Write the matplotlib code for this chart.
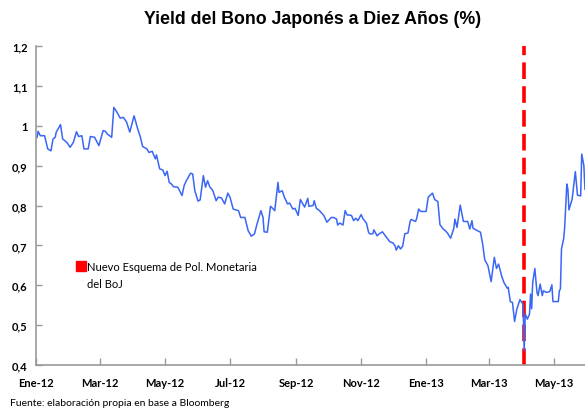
import numpy as np
import pandas as pd
import matplotlib
matplotlib.use('Agg')
import matplotlib.pyplot as plt
import matplotlib.dates as mdates
from matplotlib.lines import Line2D
from matplotlib.ticker import FuncFormatter, MultipleLocator

# yield of the 10y JGB
fechas = [
    '2012-01-02', '2012-01-03', '2012-01-05', '2012-01-09', '2012-01-12', '2012-01-15',
    '2012-01-17', '2012-01-19', '2012-01-20', '2012-01-24', '2012-01-26', '2012-01-30',
    '2012-02-02', '2012-02-05', '2012-02-08', '2012-02-10', '2012-02-13', '2012-02-15',
    '2012-02-19', '2012-02-21', '2012-02-25', '2012-02-29', '2012-03-04', '2012-03-06',
    '2012-03-08', '2012-03-10', '2012-03-12', '2012-03-14', '2012-03-17', '2012-03-20',
    '2012-03-23', '2012-03-26', '2012-03-29', '2012-04-02', '2012-04-05', '2012-04-08',
    '2012-04-10', '2012-04-14', '2012-04-16', '2012-04-19', '2012-04-20', '2012-04-22',
    '2012-04-23', '2012-04-26', '2012-04-29', '2012-05-01', '2012-05-03', '2012-05-05',
    '2012-05-07', '2012-05-09', '2012-05-13', '2012-05-17', '2012-05-19', '2012-05-21',
    '2012-05-25', '2012-05-27', '2012-05-29', '2012-06-01', '2012-06-03', '2012-06-05',
    '2012-06-06', '2012-06-08', '2012-06-10', '2012-06-12', '2012-06-15', '2012-06-18',
    '2012-06-20', '2012-06-23', '2012-06-26', '2012-06-29', '2012-07-01', '2012-07-04',
    '2012-07-09', '2012-07-11', '2012-07-15', '2012-07-18', '2012-07-21', '2012-07-24',
    '2012-07-26', '2012-07-30', '2012-08-01', '2012-08-02', '2012-08-05', '2012-08-08',
    '2012-08-10', '2012-08-12', '2012-08-15', '2012-08-16', '2012-08-19', '2012-08-21',
    '2012-08-24', '2012-08-26', '2012-08-29', '2012-08-31', '2012-09-03', '2012-09-05',
    '2012-09-09', '2012-09-12', '2012-09-13', '2012-09-17', '2012-09-18', '2012-09-20',
    '2012-09-23', '2012-09-27', '2012-09-30', '2012-10-04', '2012-10-06', '2012-10-09',
    '2012-10-10', '2012-10-12', '2012-10-15', '2012-10-17', '2012-10-19', '2012-10-21',
    '2012-10-23', '2012-10-25', '2012-10-27', '2012-10-29', '2012-11-01', '2012-11-03',
    '2012-11-06', '2012-11-08', '2012-11-09', '2012-11-12', '2012-11-13', '2012-11-16',
    '2012-11-18', '2012-11-21', '2012-11-24', '2012-11-28', '2012-12-01', '2012-12-03',
    '2012-12-04', '2012-12-06', '2012-12-08', '2012-12-10', '2012-12-12', '2012-12-15',
    '2012-12-17', '2012-12-18', '2012-12-22', '2012-12-23', '2012-12-25', '2012-12-27',
    '2013-01-01', '2013-01-03', '2013-01-07', '2013-01-09', '2013-01-12', '2013-01-14',
    '2013-01-17', '2013-01-19', '2013-01-21', '2013-01-24', '2013-01-27', '2013-01-28',
    '2013-01-30', '2013-02-02', '2013-02-05', '2013-02-09', '2013-02-11', '2013-02-13',
    '2013-02-14', '2013-02-18', '2013-02-21', '2013-02-23', '2013-02-25', '2013-02-28',
    '2013-03-03', '2013-03-06', '2013-03-08', '2013-03-10', '2013-03-13', '2013-03-15',
    '2013-03-18', '2013-03-19', '2013-03-21', '2013-03-23', '2013-03-25', '2013-03-27',
    '2013-03-30', '2013-04-01', '2013-04-02', '2013-04-03', '2013-04-04', '2013-04-06',
    '2013-04-08', '2013-04-09', '2013-04-10', '2013-04-11', '2013-04-13', '2013-04-15',
    '2013-04-16', '2013-04-18', '2013-04-20', '2013-04-21', '2013-04-24', '2013-04-27',
    '2013-04-29', '2013-04-30', '2013-05-05', '2013-05-06', '2013-05-07', '2013-05-08',
    '2013-05-10', '2013-05-11', '2013-05-13', '2013-05-14', '2013-05-15', '2013-05-18',
    '2013-05-21', '2013-05-23', '2013-05-26', '2013-05-27', '2013-05-29', '2013-05-30',
]
yields = [
    0.971, 0.986, 0.975, 0.975, 0.942, 0.937,
    0.967, 0.971, 0.984, 1.003, 0.967, 0.958,
    0.946, 0.958, 0.985, 0.973, 0.975, 0.942,
    0.942, 0.973, 0.971, 0.950, 0.988, 0.986,
    0.979, 0.975, 0.971, 1.046, 1.034, 1.019,
    1.021, 1.009, 0.984, 1.025, 0.996, 0.971,
    0.948, 0.942, 0.933, 0.936, 0.929, 0.917,
    0.927, 0.892, 0.889, 0.875, 0.886, 0.858,
    0.854, 0.847, 0.846, 0.825, 0.850, 0.862,
    0.881, 0.879, 0.837, 0.811, 0.814, 0.854,
    0.875, 0.846, 0.862, 0.847, 0.837, 0.812,
    0.821, 0.819, 0.804, 0.831, 0.821, 0.791,
    0.787, 0.770, 0.770, 0.737, 0.723, 0.729,
    0.750, 0.787, 0.770, 0.734, 0.733, 0.798,
    0.793, 0.787, 0.858, 0.833, 0.837, 0.821,
    0.804, 0.806, 0.791, 0.793, 0.775, 0.815,
    0.796, 0.818, 0.798, 0.800, 0.812, 0.793,
    0.787, 0.775, 0.758, 0.770, 0.770, 0.766,
    0.751, 0.756, 0.751, 0.787, 0.776, 0.776,
    0.775, 0.762, 0.768, 0.762, 0.777, 0.766,
    0.756, 0.733, 0.729, 0.729, 0.739, 0.724,
    0.729, 0.734, 0.723, 0.709, 0.706, 0.698,
    0.688, 0.699, 0.691, 0.698, 0.729, 0.731,
    0.760, 0.765, 0.760, 0.766, 0.791, 0.785,
    0.785, 0.821, 0.831, 0.815, 0.810, 0.752,
    0.741, 0.737, 0.731, 0.718, 0.743, 0.766,
    0.745, 0.801, 0.760, 0.760, 0.741, 0.762,
    0.743, 0.737, 0.733, 0.704, 0.664, 0.649,
    0.609, 0.670, 0.642, 0.653, 0.622, 0.607,
    0.593, 0.595, 0.559, 0.557, 0.509, 0.539,
    0.564, 0.556, 0.553, 0.436, 0.528, 0.515,
    0.528, 0.578, 0.541, 0.607, 0.642, 0.582,
    0.574, 0.603, 0.574, 0.586, 0.582, 0.584,
    0.601, 0.559, 0.559, 0.586, 0.591, 0.691,
    0.716, 0.745, 0.854, 0.841, 0.789, 0.816,
    0.885, 0.826, 0.824, 0.929, 0.900, 0.841,
]
fecha_anuncio = '2013-04-03'
meses = ['Ene-12', 'Mar-12', 'May-12', 'Jul-12', 'Sep-12', 'Nov-12',
         'Ene-13', 'Mar-13', 'May-13']
titulo = 'Yield del Bono Japonés a Diez Años (%)'
nota = ['Nuevo Esquema de Pol. Monetaria', 'del BoJ']
fuente = 'Fuente: elaboración propia en base a Bloomberg'

fechas = pd.to_datetime(fechas)
gris = '#9a9a9a'

fig = plt.figure(figsize=(5.85, 4.10), dpi=100)
ax = fig.add_axes([36 / 585, 1 - 366 / 410, 550 / 585, 319 / 410])

ax.axvline(pd.Timestamp(fecha_anuncio), color='#ff0000', lw=2.6,
           linestyle=(0, (4.6, 2.0)), zorder=1)
ax.plot(fechas, yields, color='#3a66f5', lw=1.1, zorder=2)

ax.set_xlim(pd.Timestamp('2012-01-01'), pd.Timestamp('2013-05-31'))
ax.set_ylim(0.4, 1.2)

# axes look
for s in ['top', 'right']:
    ax.spines[s].set_visible(False)
for s in ['left', 'bottom']:
    ax.spines[s].set_color(gris)
    ax.spines[s].set_linewidth(1.2)

ax.yaxis.set_major_locator(MultipleLocator(0.1))
ax.yaxis.set_major_formatter(FuncFormatter(
    lambda v, p: ('%.1f' % v).replace('.0', '').replace('.', ',')))
ax.xaxis.set_major_locator(mdates.MonthLocator(bymonth=[1, 3, 5, 7, 9, 11]))
ax.xaxis.set_major_formatter(FuncFormatter(lambda v, p: meses[p] if p < len(meses) else ''))

ax.tick_params(axis='y', direction='in', length=4, width=1, color=gris,
               pad=6, labelsize=8)
ax.tick_params(axis='x', direction='in', length=5, width=1, color=gris,
               pad=9, labelsize=8)
for lab in ax.get_xticklabels() + ax.get_yticklabels():
    lab.set_fontfamily(['Lato', 'DejaVu Sans'])
    lab.set_fontweight('bold')

# key for the dashed line (second entry only carries the wrapped text)
h1 = Line2D([], [], color='#ff0000', marker='s', markersize=6.5, lw=0)
h2 = Line2D([], [], color='none', lw=0)
leg = ax.legend([h1, h2], nota, loc='upper left', bbox_to_anchor=(0.066, 0.34),
                frameon=False, handlelength=0.75, handletextpad=0.15,
                labelspacing=0.55, borderaxespad=0,
                prop={'family': ['Lato', 'DejaVu Sans'], 'size': 8})

fig.text(313 / 585, 1 - 20 / 410, titulo, ha='center', va='center',
         fontsize=12.8, fontweight='bold', family=['Liberation Sans', 'DejaVu Sans'])
fig.text(10 / 585, 1 - 404 / 410, fuente, ha='left', va='center',
         fontsize=7.5, family=['Lato', 'DejaVu Sans'])

fig.savefig('out.png', dpi=100)
